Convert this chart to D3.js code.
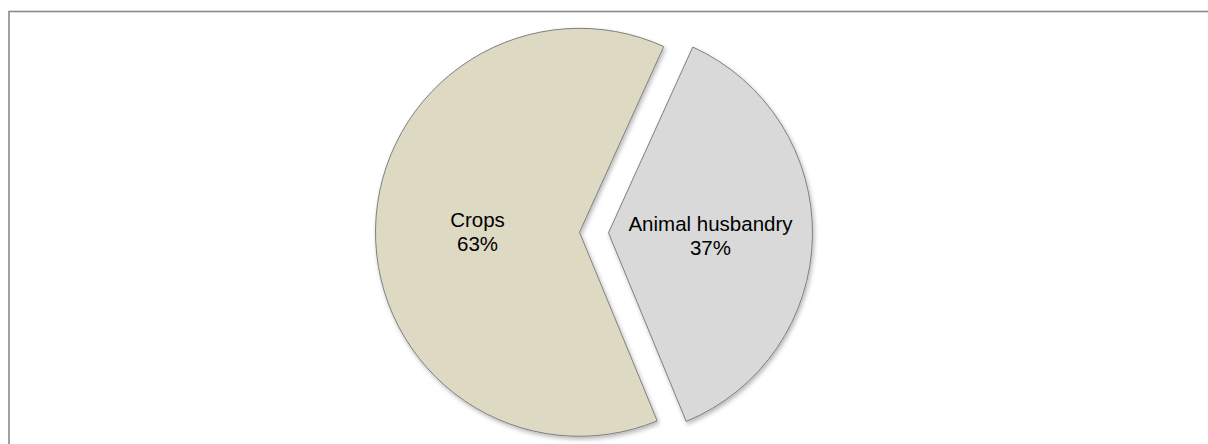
<!DOCTYPE html>
<html>
<head>
<meta charset="utf-8">
<script src="https://cdn.jsdelivr.net/npm/d3@7"></script>
<style>
  body { margin: 0; background: #fff; }
  svg { display: block; }
</style>
</head>
<body>
<svg id="chart"></svg>
<script>
// slice data, in drawing order (clockwise)
const categories = ["Crops", "Animal husbandry"];
const shares = [63, 37];
const labels = ["63%", "37%"];
const colors = ["#ddd9c3", "#d9d9d9"];
const exploded = [0, 29]; // px pulled out from centre

const width = 1208, height = 444;
const cx = 579.5, cy = 232.3, radius = 204;
const rotation = 157.6 * Math.PI / 180; // Crops starts here

const svg = d3.select("#chart")
  .attr("width", width)
  .attr("height", height);

// soft drop shadow like the original
const defs = svg.append("defs");
const filt = defs.append("filter")
  .attr("id", "shadow")
  .attr("x", "-20%").attr("y", "-20%")
  .attr("width", "140%").attr("height", "140%");
filt.append("feDropShadow")
  .attr("dx", 1.5).attr("dy", 2.5)
  .attr("stdDeviation", 2)
  .attr("flood-color", "#000")
  .attr("flood-opacity", 0.28);

// chart area border (right and bottom edges sit off the page)
svg.append("rect")
  .attr("x", 9).attr("y", 11.5)
  .attr("width", width + 20).attr("height", height + 20)
  .attr("fill", "none")
  .attr("stroke", "#8a8a8a")
  .attr("stroke-width", 1.6);

const pie = d3.pie()
  .sort(null)
  .value(d => d.value)
  .startAngle(rotation)
  .endAngle(rotation + 2 * Math.PI);

const data = categories.map((c, i) => ({ name: c, value: shares[i], label: labels[i], color: colors[i], off: exploded[i] }));
const arcs = pie(data);

const arc = d3.arc().innerRadius(0).outerRadius(radius);
const labelArc = d3.arc().innerRadius(radius * 0.5).outerRadius(radius * 0.5);

const g = svg.append("g").attr("transform", `translate(${cx},${cy})`);

const slice = g.selectAll("g.slice")
  .data(arcs)
  .join("g")
  .attr("class", "slice")
  .attr("transform", d => {
    const mid = (d.startAngle + d.endAngle) / 2;
    return `translate(${Math.sin(mid) * d.data.off},${-Math.cos(mid) * d.data.off})`;
  });

slice.append("path")
  .attr("d", arc)
  .attr("fill", d => d.data.color)
  .attr("stroke", "#7f7f7f")
  .attr("stroke-width", 1)
  .attr("filter", "url(#shadow)");

const txt = slice.append("text")
  .attr("transform", d => `translate(${labelArc.centroid(d)})`)
  .attr("text-anchor", "middle")
  .attr("font-family", "'Liberation Sans', Arial, sans-serif")
  .attr("font-size", 20.5)
  .attr("fill", "#000");

txt.append("tspan").attr("x", 0).attr("y", -3.5).text(d => d.data.name);
txt.append("tspan").attr("x", 0).attr("y", 20.5).text(d => d.data.label);
</script>
</body>
</html>
